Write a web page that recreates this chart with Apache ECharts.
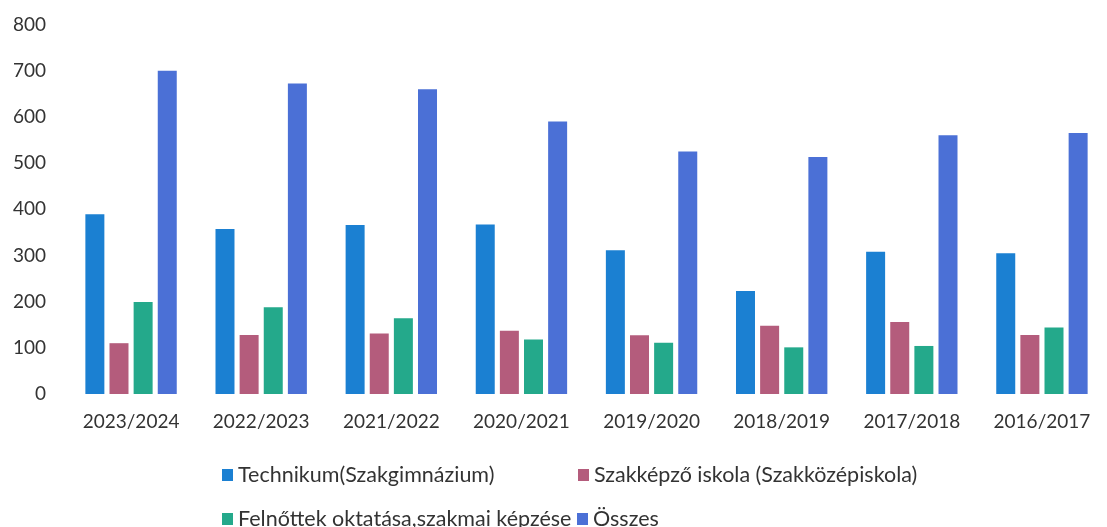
<!DOCTYPE html>
<html>
<head>
<meta charset="utf-8">
<script src="https://cdn.jsdelivr.net/npm/echarts@6/dist/echarts.min.js"></script>
<style>
html,body{margin:0;padding:0;background:#fff;}
#c{width:1107px;height:527px;}
</style>
</head>
<body>
<div id="c"></div>
<script>
var categories = ['2023/2024','2022/2023','2021/2022','2020/2021','2019/2020','2018/2019','2017/2018','2016/2017'];
var seriesNames = ['Technikum(Szakgimnázium)','Szakképző iskola (Szakközépiskola)','Felnőttek oktatása,szakmai képzése','Összes'];
var technikum = [389, 357, 366, 367, 311, 223, 308, 305];
var szakkepzo = [110, 128, 131, 137, 127, 148, 156, 128];
var felnottek = [199, 188, 164, 118, 111, 101, 104, 144];
var osszes = [700, 672, 660, 590, 525, 513, 560, 565];
var colors = ['#1b80d2', '#b45c7c', '#24a98b', '#4b70d6'];

var chart = echarts.init(document.getElementById('c'));
var font = 'Lato';
function legendAt(name, left, top) {
  return {
    data: [name], left: left, top: top, orient: 'horizontal',
    itemWidth: 11, itemHeight: 12, icon: 'rect', padding: 0,
    textStyle: { fontFamily: font, fontSize: 21.5, color: '#333' },
    selectedMode: false
  };
}
var datas = [technikum, szakkepzo, felnottek, osszes];
chart.setOption({
  animation: false,
  color: colors,
  grid: { left: 66, right: -11, top: 24.5, bottom: 133, containLabel: false },
  legend: [
    legendAt(seriesNames[0], 222, 464),
    legendAt(seriesNames[1], 578, 464),
    legendAt(seriesNames[2], 222, 508),
    legendAt(seriesNames[3], 577, 508)
  ],
  xAxis: {
    type: 'category', data: categories,
    axisLine: { show: false }, axisTick: { show: false },
    axisLabel: { fontFamily: font, fontSize: 19, color: '#333', margin: 18 }
  },
  yAxis: {
    type: 'value', min: 0, max: 800, interval: 100,
    splitLine: { show: false }, axisLine: { show: false }, axisTick: { show: false },
    axisLabel: { fontFamily: font, fontSize: 19, color: '#333', margin: 20 }
  },
  series: seriesNames.map(function (n, i) {
    return { name: n, type: 'bar', data: datas[i], barWidth: 19, barGap: '27%' };
  })
});
</script>
</body>
</html>
